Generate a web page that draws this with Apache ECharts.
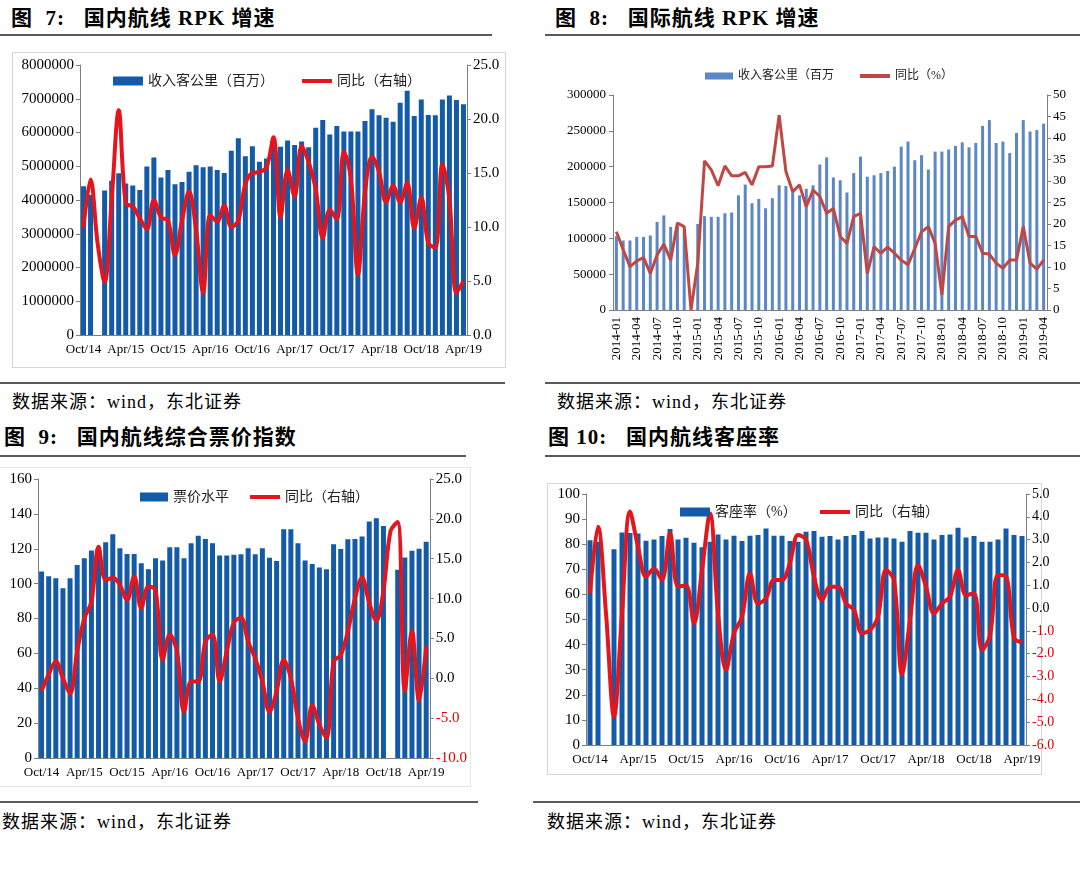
<!DOCTYPE html>
<html><head><meta charset="utf-8">
<script src="https://cdn.jsdelivr.net/npm/echarts@6/dist/echarts.min.js"></script>
<style>
body{margin:0;width:1080px;height:872px;background:#fff;position:relative;overflow:hidden;font-family:"Liberation Serif","Noto Sans CJK SC",serif;}
.t{position:absolute;font-weight:bold;font-size:21px;line-height:24px;letter-spacing:1px;color:#000;white-space:nowrap;}
.s{position:absolute;font-size:18px;line-height:22px;letter-spacing:1px;color:#000;white-space:nowrap;}
.hr{position:absolute;height:2px;background:#5a5a5a;}
.c{position:absolute;}
.f{position:absolute;box-sizing:border-box;border:1px solid #d6d6d6;}
</style></head>
<body>
<div class="t" style="left:11px;top:6px;">图&nbsp;&nbsp;7:&nbsp;&nbsp;&nbsp;国内航线 RPK 增速</div>
<div class="hr" style="left:0;top:34px;width:492px;"></div>
<div class="t" style="left:555px;top:6px;">图&nbsp;&nbsp;8:&nbsp;&nbsp;&nbsp;国际航线 RPK 增速</div>
<div class="hr" style="left:545px;top:34px;width:535px;"></div>

<div class="f" style="left:12px;top:52px;width:494px;height:316px;"></div>
<div class="c" id="c1" style="left:12px;top:52px;width:494px;height:316px;"></div>
<div class="c" id="c2" style="left:545px;top:50px;width:535px;height:330px;"></div>

<div class="hr" style="left:0;top:382px;width:505px;"></div>
<div class="hr" style="left:545px;top:382px;width:535px;"></div>
<div class="s" style="left:12px;top:391px;">数据来源：wind，东北证券</div>
<div class="s" style="left:557px;top:391px;">数据来源：wind，东北证券</div>

<div class="t" style="left:4px;top:425px;">图&nbsp;&nbsp;9:&nbsp;&nbsp;&nbsp;国内航线综合票价指数</div>
<div class="hr" style="left:0;top:455px;width:466px;"></div>
<div class="t" style="left:548px;top:425px;">图&nbsp;10:&nbsp;&nbsp;&nbsp;国内航线客座率</div>
<div class="hr" style="left:545px;top:455px;width:535px;"></div>

<div class="f" style="left:-1px;top:467px;width:472px;height:320px;border-color:#e6e6e6;"></div>
<div class="c" id="c3" style="left:0;top:467px;width:470px;height:320px;"></div>
<div class="f" style="left:547px;top:483px;width:495px;height:292px;"></div>
<div class="c" id="c4" style="left:547px;top:483px;width:533px;height:292px;"></div>

<div class="hr" style="left:0;top:801px;width:478px;"></div>
<div class="hr" style="left:533px;top:801px;width:547px;"></div>
<div class="s" style="left:2px;top:811px;">数据来源：wind，东北证券</div>
<div class="s" style="left:547px;top:811px;">数据来源：wind，东北证券</div>

<script>
// ---------- categories ----------
var months = ['Oct/14','Nov/14','Dec/14','Jan/15','Feb/15','Mar/15','Apr/15','May/15','Jun/15','Jul/15','Aug/15','Sep/15','Oct/15','Nov/15','Dec/15','Jan/16','Feb/16','Mar/16','Apr/16','May/16','Jun/16','Jul/16','Aug/16','Sep/16','Oct/16','Nov/16','Dec/16','Jan/17','Feb/17','Mar/17','Apr/17','May/17','Jun/17','Jul/17','Aug/17','Sep/17','Oct/17','Nov/17','Dec/17','Jan/18','Feb/18','Mar/18','Apr/18','May/18','Jun/18','Jul/18','Aug/18','Sep/18','Oct/18','Nov/18','Dec/18','Jan/19','Feb/19','Mar/19','Apr/19'];
var monthsIntl = ['2014-01','2014-02','2014-03','2014-04','2014-05','2014-06','2014-07','2014-08','2014-09','2014-10','2014-11','2014-12','2015-01','2015-02','2015-03','2015-04','2015-05','2015-06','2015-07','2015-08','2015-09','2015-10','2015-11','2015-12','2016-01','2016-02','2016-03','2016-04','2016-05','2016-06','2016-07','2016-08','2016-09','2016-10','2016-11','2016-12','2017-01','2017-02','2017-03','2017-04','2017-05','2017-06','2017-07','2017-08','2017-09','2017-10','2017-11','2017-12','2018-01','2018-02','2018-03','2018-04','2018-05','2018-06','2018-07','2018-08','2018-09','2018-10','2018-11','2018-12','2019-01','2019-02','2019-03','2019-04'];

// ---------- 图7 国内航线 RPK ----------
var rpkDom = [4410000,4150000,null,4280000,4570000,4790000,4490000,4430000,4300000,4990000,5260000,4670000,4890000,4470000,4530000,4840000,5030000,4970000,4990000,4890000,4800000,5460000,5830000,5300000,5590000,5130000,5230000,5600000,5580000,5760000,5630000,5730000,5560000,6140000,6370000,5940000,6190000,6030000,6030000,6030000,6340000,6690000,6510000,6440000,6320000,6880000,7240000,6490000,6980000,6520000,6510000,6980000,7100000,6960000,6840000];
var rpkDomYoy = [10.0,14.4,8.5,4.9,12.5,20.8,12.2,11.9,10.8,9.8,12.5,10.9,10.6,7.4,10.6,13.3,9.7,3.9,11.1,10.5,12.0,10.0,10.6,14.0,15.0,15.1,15.5,18.3,10.9,15.3,12.8,17.5,16.0,13.5,9.0,11.6,10.7,17.0,14.5,5.6,13.2,16.5,15.1,12.3,13.8,12.3,14.1,9.9,12.7,8.5,8.1,15.8,12.6,3.9,5.0];

// ---------- 图8 国际航线 RPK ----------
var rpkIntl = [103000,97000,97000,102000,102000,104000,123000,132000,116000,118000,113000,null,120000,131000,130000,130000,135000,136000,160000,175000,149000,155000,142000,156000,174000,173000,168000,160000,169000,174000,203000,213000,185000,181000,164000,191000,214000,186000,188000,191000,194000,200000,228000,235000,209000,216000,196000,221000,221000,224000,229000,234000,227000,233000,257000,265000,233000,235000,219000,247000,265000,249000,251000,260000];
var rpkIntlYoy = [18.2,14.0,10.1,11.4,12.2,8.5,12.8,15.3,11.6,20.2,19.4,0,10.9,34.7,32.6,28.9,33.5,31.2,31.2,32.0,29.1,33.3,33.3,33.5,45.3,32.2,27.5,29.1,24.0,27.9,26.4,22.5,23.6,17.1,15.5,21.7,22.5,8.5,14.7,13.2,14.6,13.2,11.6,10.5,14.3,18.2,19.4,15.5,3.5,19.4,20.9,21.7,17.1,17.1,13.2,13.0,10.9,9.7,11.6,11.6,19.4,10.9,9.5,11.6];

// ---------- 图9 票价指数 ----------
var fare = [106.9,104.2,103.1,97.4,103.1,110.7,114.6,119.0,121.0,123.7,128.3,120.3,117.0,117.0,111.7,108.3,114.6,113.2,120.9,120.9,114.6,123.2,127.5,125.6,123.2,116.1,116.1,116.5,116.9,120.3,116.9,120.3,114.9,113.0,131.2,131.2,123.2,113.2,111.3,109.2,108.3,122.6,119.9,125.4,125.6,127.0,135.6,137.5,133.1,null,107.9,115.0,118.8,120.0,124.0];
var fareYoy = [-1.6,0.5,2.1,0.0,-1.9,3.4,7.5,9.6,16.5,12.3,12.6,11.7,9.8,12.8,8.8,11.5,11.1,2.3,5.5,3.4,-4.2,-0.4,-0.4,4.6,5.5,-0.4,3.4,7.0,7.6,4.6,2.5,-0.4,-4.2,-1.6,2.3,0.0,-5.0,-7.9,-3.4,-5.8,-7.5,2.1,2.9,5.9,10.0,12.6,9.5,7.2,11.0,18.5,19.6,-1.6,5.9,-2.8,4.0];

// ---------- 图10 客座率 ----------
var loadFactor = [81.6,81.0,null,78.0,84.7,84.5,84.3,81.4,81.9,83.3,86.1,81.9,82.6,80.6,78.8,81.0,83.9,81.9,83.4,81.3,83.4,83.7,86.3,83.4,83.4,81.3,81.0,85.0,85.3,83.0,83.3,81.9,83.3,83.7,85.3,82.3,82.7,82.7,82.3,81.0,85.3,84.6,84.6,81.9,83.7,83.9,86.6,82.7,83.3,81.0,81.0,81.9,86.3,83.7,83.3];
var loadFactorYoy = [0.65,3.57,-0.23,-4.76,-0.23,4.23,2.69,1.38,1.74,1.23,3.28,0.94,1.0,-0.67,1.67,4.15,-0.23,-2.71,-1.1,-0.38,1.52,0.2,0.43,1.23,1.23,2.0,3.2,3.0,1.38,0.35,0.94,0.94,0.2,-0.08,-1.1,-0.96,-0.38,1.67,1.23,-2.9,-0.52,1.89,0.94,-0.23,0.2,0.5,1.67,0.57,0.65,-1.84,-1.2,1.45,1.4,-1.3,-1.5];

var FONT = '"Liberation Serif","Noto Sans CJK SC",serif';
var AX = '#7f7f7f';
var BLUE = '#135aa8', RED = '#e4151c';

function plain(v){ return String(v); }
function oneDec(v){ return v.toFixed(1); }
function valAxis(o){
  return Object.assign({
    type:'value', splitLine:{show:false},
    axisLine:{show:true, lineStyle:{color:AX}},
    axisTick:{show:true, length:4, lineStyle:{color:AX}},
    axisLabel:{color:'#000', fontFamily:FONT, fontSize:15, margin:6, formatter:plain}
  }, o);
}
function legends(items){
  return items.map(function(it){
    return {data:[{name:it.name, icon:'rect'}], left:it.left, top:it.top, itemWidth:it.w, itemHeight:it.h,
      textStyle:{fontFamily:FONT, fontSize:it.fs, color:'#222'}, selectedMode:false};
  });
}
function negRed(v){ return parseFloat(v) < 0 ? '#e00000' : '#000'; }
function catAxis(data){
  return {type:'category', data:data, boundaryGap:true,
    axisLine:{lineStyle:{color:AX}}, axisTick:{interval:5, length:4, lineStyle:{color:AX}},
    axisLabel:{interval:5, color:'#000', fontFamily:FONT, fontSize:13, margin:8}};
}

// chart 1
var ch1 = echarts.init(document.getElementById('c1'));
ch1.setOption({
  animation:false,
  grid:{left:68, right:39, top:13, bottom:33},
  legend: legends([
    {name:'收入客公里（百万）', left:96, top:17, w:30, h:9, fs:14},
    {name:'同比（右轴）', left:285, top:17, w:30, h:4, fs:14}
  ]),
  xAxis: catAxis(months),
  yAxis:[
    valAxis({min:0, max:8000000, interval:1000000}),
    valAxis({min:0, max:25, interval:5, position:'right', axisLabel:{color:'#000', fontFamily:FONT, fontSize:15, margin:6, formatter:oneDec}})
  ],
  series:[
    {name:'收入客公里（百万）', type:'bar', data:rpkDom, barWidth:5, itemStyle:{color:BLUE}},
    {name:'同比（右轴）', type:'line', yAxisIndex:1, data:rpkDomYoy, smooth:0.35, symbol:'none', lineStyle:{color:RED, width:4}, itemStyle:{color:RED}}
  ]
});

// chart 2
var ch2 = echarts.init(document.getElementById('c2'));
ch2.setOption({
  animation:false,
  grid:{left:68, right:33, top:45, bottom:70},
  legend: legends([
    {name:'收入客公里（百万', left:155, top:15, w:28, h:7, fs:12},
    {name:'同比（%）', left:310, top:15, w:30, h:4, fs:12}
  ]),
  xAxis:{type:'category', data:monthsIntl, boundaryGap:true,
    axisLine:{lineStyle:{color:AX}}, axisTick:{interval:2, length:4, lineStyle:{color:AX}},
    axisLabel:{interval:2, rotate:90, color:'#000', fontFamily:FONT, fontSize:13, margin:7}},
  yAxis:[
    valAxis({min:0, max:300000, interval:50000, axisLabel:{color:'#000', fontFamily:FONT, fontSize:13, margin:7, formatter:plain}}),
    valAxis({min:0, max:50, interval:5, position:'right', axisLabel:{color:'#000', fontFamily:FONT, fontSize:13, margin:6, formatter:plain}})
  ],
  series:[
    {name:'收入客公里（百万', type:'bar', data:rpkIntl, barWidth:3, itemStyle:{color:'#5b87c6'}},
    {name:'同比（%）', type:'line', yAxisIndex:1, data:rpkIntlYoy, symbol:'none', lineStyle:{color:'#bf4744', width:3}, itemStyle:{color:'#bf4744'}}
  ]
});

// chart 3
var ch3 = echarts.init(document.getElementById('c3'));
ch3.setOption({
  animation:false,
  grid:{left:38, right:36, top:12, bottom:29},
  legend: legends([
    {name:'票价水平', left:135, top:18, w:28, h:9, fs:14},
    {name:'同比（右轴）', left:245, top:18, w:30, h:4, fs:14}
  ]),
  xAxis: catAxis(months),
  yAxis:[
    valAxis({min:0, max:160, interval:20}),
    valAxis({min:-10, max:25, interval:5, position:'right', axisLabel:{color:negRed, fontFamily:FONT, fontSize:15, margin:6, formatter:oneDec}})
  ],
  series:[
    {name:'票价水平', type:'bar', data:fare, barWidth:5, itemStyle:{color:BLUE}},
    {name:'同比（右轴）', type:'line', yAxisIndex:1, data:fareYoy, smooth:0.35, symbol:'none', lineStyle:{color:RED, width:4}, itemStyle:{color:RED}}
  ]
});

// chart 4
var ch4 = echarts.init(document.getElementById('c4'));
ch4.setOption({
  animation:false,
  grid:{left:39, right:54, top:11, bottom:30},
  legend: legends([
    {name:'客座率（%）', left:128, top:17, w:30, h:9, fs:14},
    {name:'同比（右轴）', left:268, top:17, w:30, h:4, fs:14}
  ]),
  xAxis: catAxis(months),
  yAxis:[
    valAxis({min:0, max:100, interval:10}),
    valAxis({min:-6, max:5, interval:1, position:'right', axisLabel:{color:negRed, fontFamily:FONT, fontSize:14, margin:6, formatter:oneDec}})
  ],
  series:[
    {name:'客座率（%）', type:'bar', data:loadFactor, barWidth:5, itemStyle:{color:BLUE}},
    {name:'同比（右轴）', type:'line', yAxisIndex:1, data:loadFactorYoy, smooth:0.35, symbol:'none', lineStyle:{color:RED, width:4}, itemStyle:{color:RED}}
  ]
});
</script>
</body></html>
